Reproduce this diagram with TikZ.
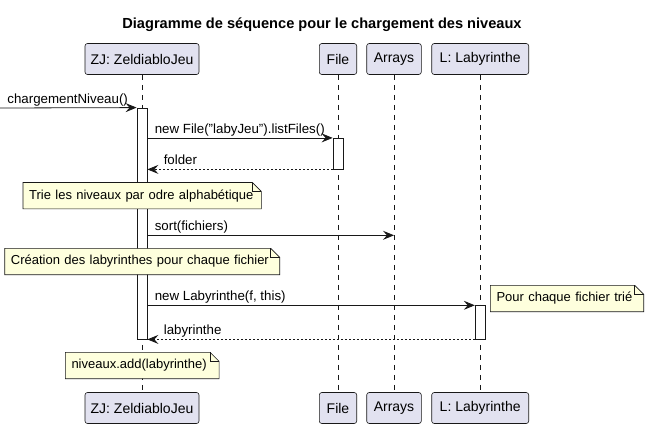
\documentclass[tikz,border=0pt]{standalone}
\usepackage{fontspec}
\setmainfont{Liberation Sans}
\usetikzlibrary{arrows.meta,calc}
\definecolor{pfill}{HTML}{E2E2F0}
\definecolor{pline}{HTML}{181818}
\definecolor{nfill}{HTML}{FEFFDD}
\pgfdeclarelayer{lifel}\pgfdeclarelayer{notebg}
\pgfsetlayers{lifel,notebg,main}
\newcommand\notepoly[1]{%
  \path[notebox] (#1.north west) -- ([xshift=-9pt]#1.north east) -- ([yshift=-9pt]#1.north east) -- (#1.south east) -- (#1.south west) -- cycle;
  \draw[notebox, fill=none] ([xshift=-9pt]#1.north east) -- ([xshift=-9pt,yshift=-9pt]#1.north east) -- ([yshift=-9pt]#1.north east);}
\begin{document}
\begin{tikzpicture}[x=1pt,y=-1pt,
  part/.style={draw=pline, line width=0.6pt, fill=pfill, rounded corners=2.5pt, minimum height=31pt, inner xsep=0pt, font=\fontsize{14}{16}\selectfont},
  lifeline/.style={draw=pline, line width=0.5pt, dash pattern=on 5pt off 5pt},
  act/.style={draw=pline, line width=0.8pt, fill=white, minimum width=10pt, inner sep=0pt},
  msg/.style={draw=pline, line width=0.8pt, -{Stealth[length=11pt,width=9pt,inset=4pt]}},
  ret/.style={msg, dash pattern=on 2pt off 2pt},
  lbl/.style={font=\fontsize{13.3}{15}\selectfont, inner sep=0pt, anchor=base west},
  note/.style={font=\fontsize{13}{15}\selectfont, inner xsep=6pt, inner ysep=0pt, minimum height=26pt, align=left, anchor=north west},
  notebox/.style={draw=pline, line width=0.6pt, fill=nfill}
]
\useasboundingbox (0,0) rectangle (650,428);
% title
\node[font=\bfseries\fontsize{14.6}{17}\selectfont, anchor=base, inner sep=0pt] (title) at (322,29) {Diagramme de séquence pour le chargement des niveaux};
% participants
\node[part, minimum width=114pt] (zjT) at (142,59) {ZJ: ZeldiabloJeu};
\node[part, minimum width=37.4pt] (fileT) at (338,59) {File};
\node[part, minimum width=54.6pt] (arrT) at (394,59) {Arrays};
\node[part, minimum width=97pt] (labT) at (480.2,59) {L: Labyrinthe};
\node[part, minimum width=114pt] (zjB) at (142,408) {ZJ: ZeldiabloJeu};
\node[part, minimum width=37.4pt] (fileB) at (338,408) {File};
\node[part, minimum width=54.6pt] (arrB) at (394,408) {Arrays};
\node[part, minimum width=97pt] (labB) at (480.2,408) {L: Labyrinthe};
\begin{pgfonlayer}{lifel}
\draw[lifeline] (zjT.south) -- (zjB.north);
\draw[lifeline] (fileT.south) -- (fileB.north);
\draw[lifeline] (arrT.south) -- (arrB.north);
\draw[lifeline] (labT.south) -- (labB.north);
\node[act, minimum height=231pt] (actZJ) at (142,223.5) {};
\node[act, minimum height=30.7pt] (actFile) at (338,153.65) {};
\node[act, minimum height=33.3pt] (actLab) at (480.2,322.35) {};
\end{pgfonlayer}
% messages
\coordinate (src) at (0,108);
\draw[msg] (src) -- (actZJ.north west)
  node[lbl, pos=0, xshift=7pt, yshift=4.5pt] {chargementNiveau()};
\draw[msg] (actZJ.east |- actFile.north west) -- (actFile.north west)
  node[lbl, pos=0, xshift=7pt, yshift=4.5pt] {new File("labyJeu").listFiles()};
\draw[ret] (actFile.south west) -- (actFile.south west -| actZJ.east)
  node[lbl, pos=1, xshift=16pt, yshift=4.5pt] {folder};
\path (arrT.south) ++(0,160.5) coordinate (sortE);
\draw[msg] (sortE -| actZJ.east) -- (sortE)
  node[lbl, pos=0, xshift=7pt, yshift=4.5pt] {sort(fichiers)};
\draw[msg] (actLab.north west -| actZJ.east) -- (actLab.north west)
  node[lbl, pos=0, xshift=7pt, yshift=4.5pt] {new Labyrinthe(f, this)};
\draw[ret] (actLab.south west) -- (actLab.south west -| actZJ.east)
  node[lbl, pos=1, xshift=16pt, yshift=4.5pt] {labyrinthe};
% notes
\node[note, text width=226pt] (n1) at (23,182.5) {Trie les niveaux par odre alphabétique};
\node[note, text width=262.6pt] (n2) at (4.7,248.3) {Création des labyrinthes pour chaque fichier};
\node[note, text width=141pt] (n3) at (490.3,285.3) {Pour chaque fichier trié};
\node[note, text width=141.4pt] (n4) at (65.3,352.3) {niveaux.add(labyrinthe)};
\begin{pgfonlayer}{notebg}
\notepoly{n1}\notepoly{n2}\notepoly{n3}\notepoly{n4}
\end{pgfonlayer}
\end{tikzpicture}
\end{document}
